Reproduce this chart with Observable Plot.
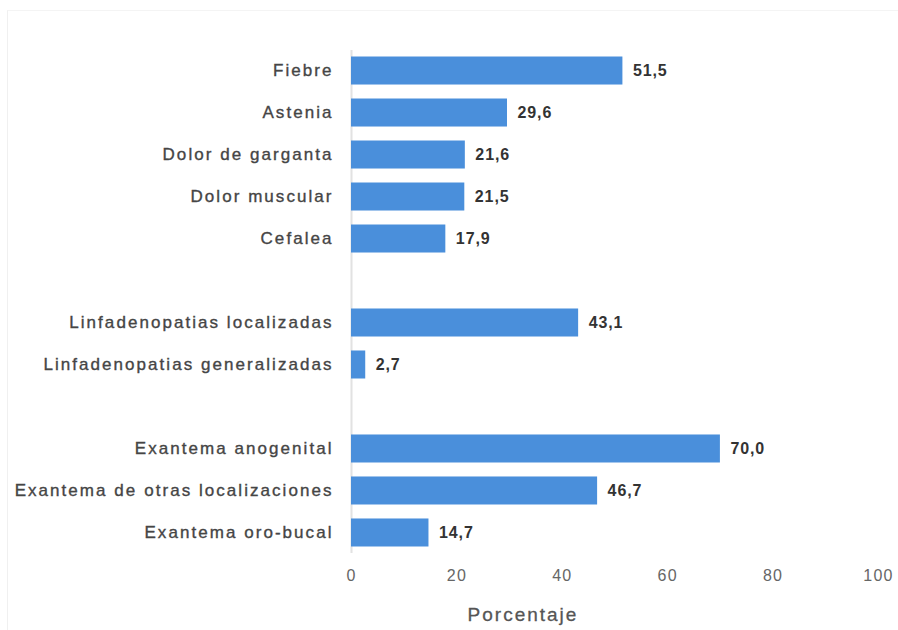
<!DOCTYPE html>
<html>
<head>
<meta charset="utf-8">
<script src="https://cdn.jsdelivr.net/npm/d3@7"></script>
<script src="https://cdn.jsdelivr.net/npm/@observablehq/plot@0.6"></script>
<style>
  html, body { margin: 0; padding: 0; background: #fff; }
  #chart { position: relative; width: 898px; height: 630px; }
  #border { position: absolute; left: 7px; top: 10px; right: 0; bottom: 0;
            border-left: 1px solid #f0f0f0; border-top: 1px solid #f4f4f4; pointer-events: none; }
  #chart svg { position: absolute; left: 0; top: 0; }
  g[aria-label="y-axis tick label"] text { letter-spacing: 2.05px; stroke: #454545; stroke-width: 0.35px; }
  g[aria-label="x-axis tick label"] text { letter-spacing: 1.2px; }
  .vals text { letter-spacing: 0.9px; }
  .xtitle text { letter-spacing: 2px; stroke: #555; stroke-width: 0.3px; }
</style>
</head>
<body>
<div id="chart"><div id="border"></div></div>
<script>
const categories = [
  "Fiebre", "Astenia", "Dolor de garganta", "Dolor muscular", "Cefalea",
  "Linfadenopatias localizadas", "Linfadenopatias generalizadas",
  "Exantema anogenital", "Exantema de otras localizaciones", "Exantema oro-bucal"
];
const values = [51.5, 29.6, 21.6, 21.5, 17.9, 43.1, 2.7, 70.0, 46.7, 14.7];
const groups = [1, 1, 1, 1, 1, 2, 2, 3, 3, 3];
const xTicks = [0, 20, 40, 60, 80, 100];
const xTitle = "Porcentaje";

const data = categories.map((c, i) => ({category: c, value: values[i], group: groups[i]}));

// y domain with blank slots between groups
const domain = [];
data.forEach((d, i) => {
  if (i > 0 && d.group !== data[i - 1].group) domain.push("__gap" + i);
  domain.push(d.category);
});

const fmt = v => v.toFixed(1).replace(".", ",");

const chart = Plot.plot({
  width: 898,
  height: 630,
  marginLeft: 351,
  marginRight: 20,
  marginTop: 50,
  marginBottom: 77,
  style: {fontFamily: "'Liberation Sans', Arial, sans-serif", background: "transparent"},
  x: {domain: [0, 100]},
  y: {domain, paddingInner: 0.333, paddingOuter: 0.155, round: false},
  marks: [
    Plot.ruleX([0], {stroke: "#e2e2e2", strokeWidth: 2}),
    Plot.barX(data, {x: "value", y: "category", fill: "#4a8fdb"}),
    Plot.text(data, {
      x: "value", y: "category", text: d => fmt(d.value),
      dx: 10, textAnchor: "start", fontWeight: "bold", fontSize: 16, fill: "#333",
      className: "vals"
    }),
    Plot.axisY({
      tickSize: 0, tickPadding: 18, fontSize: 17, color: "#454545", label: null,
      tickFormat: d => d.startsWith("__gap") ? "" : d
    }),
    Plot.axisX({
      ticks: xTicks, tickSize: 0, tickPadding: 16, fontSize: 16, color: "#666", label: null
    }),
    Plot.text([xTitle], {
      frameAnchor: "bottom", dy: 61, dx: -92, fontSize: 19, fill: "#555",
      lineAnchor: "middle", className: "xtitle"
    })
  ]
});

document.getElementById("chart").appendChild(chart);
</script>
</body>
</html>
